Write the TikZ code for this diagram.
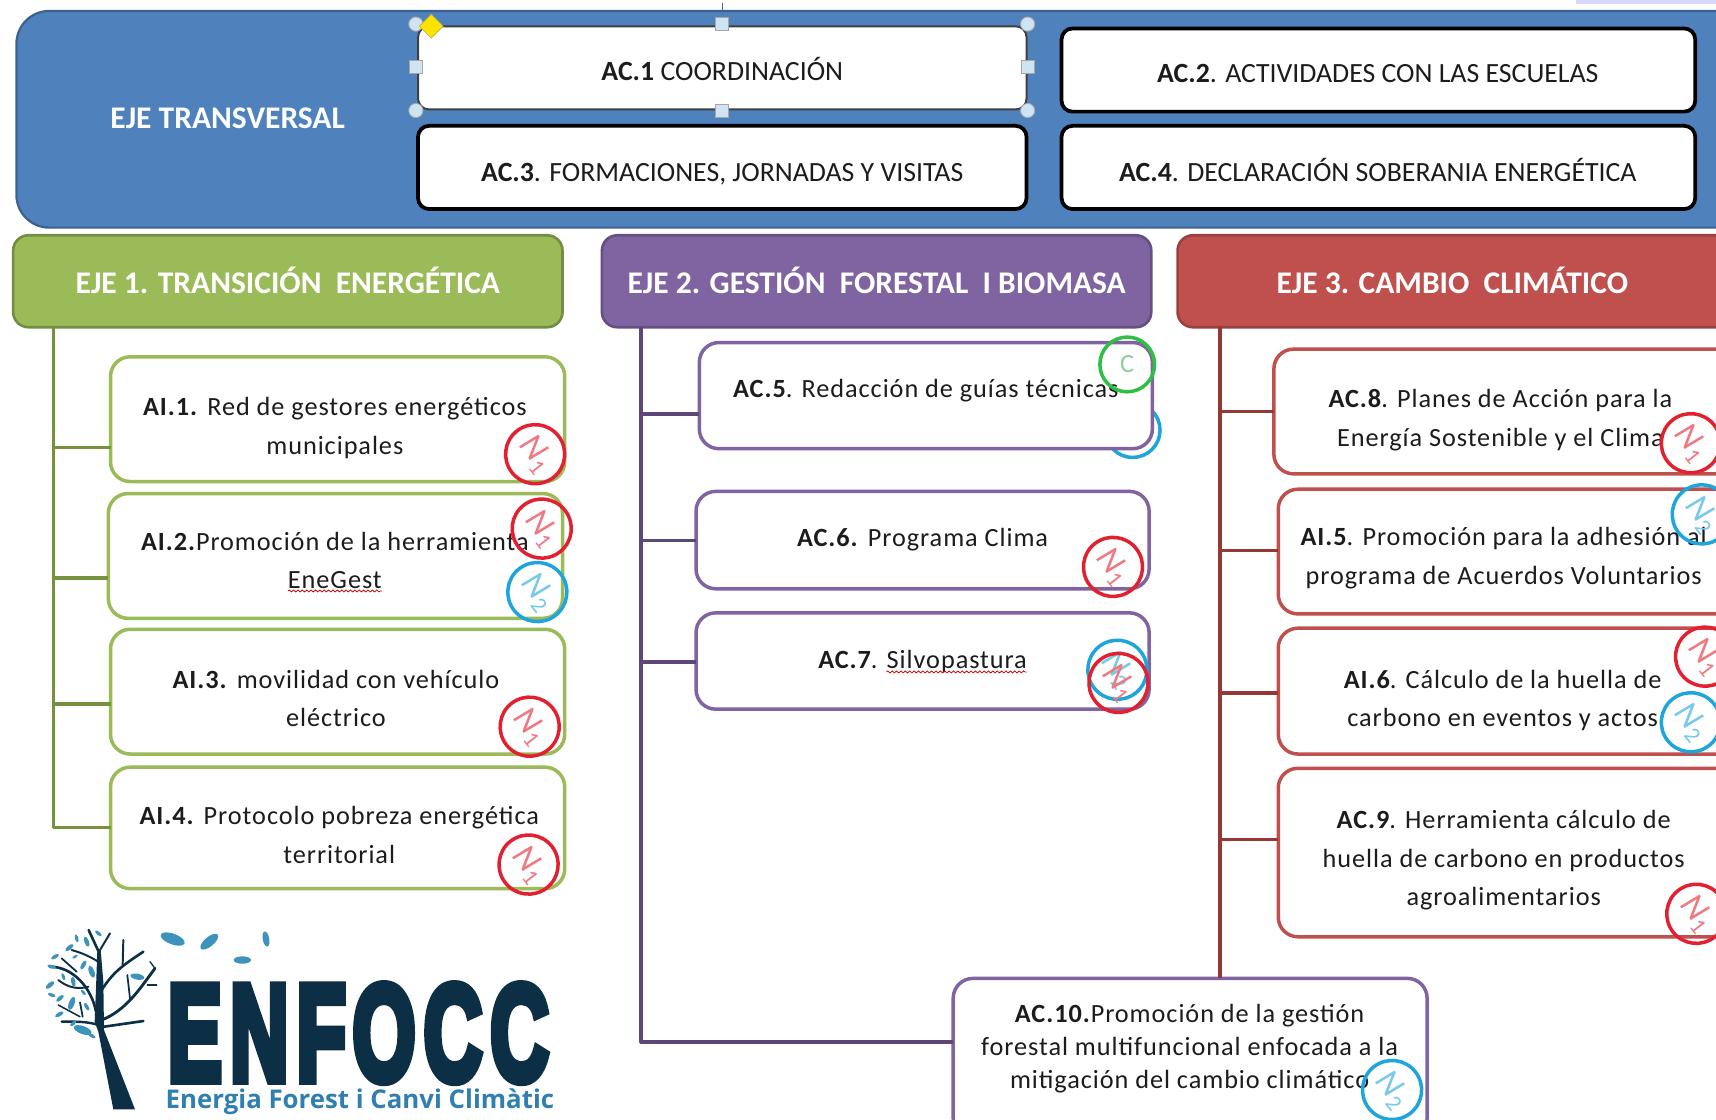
\documentclass[tikz,border=0pt]{standalone}
\usepackage{fontspec}
\usepackage{graphicx}
\setmainfont{Carlito}
\newfontfamily\bodyf[LetterSpace=3.6]{Carlito}
\newfontfamily\logof[BoldFeatures={FakeBold=7}]{Liberation Sans}
\newfontfamily\subf{Open Sans}
\usetikzlibrary{shapes.geometric,decorations.pathmorphing}
\definecolor{cblue}{HTML}{4F81BD}
\definecolor{cgreen}{HTML}{9BBB59}
\definecolor{cpurple}{HTML}{8064A2}
\definecolor{cred}{HTML}{C0504D}
\definecolor{lgreen}{HTML}{76923C}
\definecolor{lpurple}{HTML}{5C4776}
\definecolor{lred}{HTML}{953735}
\definecolor{bred}{HTML}{E3202F}
\definecolor{bblue}{HTML}{1EA5DC}
\definecolor{bgreen}{HTML}{2FBF45}
\definecolor{logod}{HTML}{0D2F45}
\definecolor{logob}{HTML}{2F7FB0}
\definecolor{leafc}{HTML}{3E93BC}
\definecolor{ink}{HTML}{1C1C1C}
\definecolor{handle}{HTML}{CFE4F3}
\tikzset{
  base/.style={rectangle,inner sep=0pt,outer sep=0pt},
  transv/.style={base,draw=cblue!75!black,fill=cblue,line width=1pt,rounded corners=15pt},
  topbox/.style={base,draw=black,fill=white,line width=1.7pt,rounded corners=5pt},
  selbox/.style={base,draw=black!75,fill=white,line width=.9pt,rounded corners=5pt},
  head1/.style={base,draw=cgreen!75!black,fill=cgreen,line width=1.2pt,rounded corners=7pt},
  head2/.style={base,draw=cpurple!80!black,fill=cpurple,line width=1.2pt,rounded corners=7pt},
  head3/.style={base,draw=cred!80!black,fill=cred,line width=1.2pt,rounded corners=7pt},
  gbox/.style={base,draw=cgreen,fill=white,line width=1.6pt,rounded corners=9pt},
  pbox/.style={base,draw=cpurple,fill=white,line width=1.6pt,rounded corners=9pt},
  rbox/.style={base,draw=cred,fill=white,line width=1.6pt,rounded corners=9pt},
  gline/.style={draw=lgreen,line width=1.7pt},
  pline/.style={draw=lpurple,line width=1.7pt},
  rline/.style={draw=lred,line width=1.7pt},
  bodytxt/.style={align=center,inner sep=0pt,text=ink,font=\bodyf\fontsize{12}{17.5}\selectfont},
  tighttxt/.style={bodytxt,font=\bodyf\fontsize{12}{15}\selectfont},
  toptxt/.style={align=center,inner sep=0pt,text=ink,text height=8pt,text depth=2.4pt,yshift=-1.5pt,font=\fontsize{12.7}{14}\selectfont},
  headtxt/.style={align=center,inner sep=0pt,text=white,text height=9pt,text depth=2pt,yshift=-1.5pt,font=\bfseries\fontsize{14.4}{16}\selectfont},
  badgec/.style={circle,draw=#1,line width=1.6pt,minimum size=27pt,inner sep=0pt,
     text=#1!60!white,font=\fontsize{16}{16}\selectfont},
  handc/.style={circle,draw=black!35,fill=handle,line width=.4pt,minimum size=6.5pt,inner sep=0pt},
  hands/.style={rectangle,draw=black!35,fill=handle,line width=.4pt,minimum size=6pt,inner sep=0pt},
  squig/.style={draw=red!80!black,line width=.35pt,decorate,decoration={snake,amplitude=.45pt,segment length=2pt}},
  leaf/.style={ellipse,fill=leafc,inner sep=0pt,minimum width=#1*.1523pt,minimum height=#1*.065pt},
  limb/.style={draw=logod,line cap=round,line join=round}
}
\newcommand{\mybox}[6]{%
  \pgfmathsetmacro\cxx{(#3+#5)/2}\pgfmathsetmacro\cyy{(#4+#6)/2}%
  \pgfmathsetmacro\wdd{(#5-#3)*0.5}\pgfmathsetmacro\htt{(#6-#4)*0.5}%
  \node[#1,minimum width=\wdd pt,minimum height=\htt pt] (#2) at (\cxx,\cyy) {};}
\newcommand{\Nn}[1]{\textit{N}\raisebox{-.35ex}{\fontsize{10.5}{10.5}\selectfont #1}}
\newcommand{\badge}[5]{\node[badgec=#1,rotate=-52] (#2) at (#3,#4) {#5};}
\newcommand{\lf}[4]{\node[leaf=#4,rotate=#3] at (#1,#2) {};}
\begin{document}
\begin{tikzpicture}[x=0.5pt,y=-0.5pt]
\path[use as bounding box,fill=white] (0,0) rectangle (1568,1022.5);
\clip (0,0) rectangle (1568,1022.5);
% window artefacts at the top
\fill[blue!15!white] (1440,0) rectangle (1568,3.5);
\draw[black!60,line width=.4pt] (660,3) -- (660,12);
% transversal axis
\mybox{transv}{et}{15}{10}{1600}{208}
\node[headtxt] (ettxt) at (208,107) {EJE TRANSVERSAL};
\mybox{selbox}{ac1}{382}{24}{938}{100}
\mybox{topbox}{ac2}{970}{26}{1549}{102}
\mybox{topbox}{ac3}{382}{115}{938}{191}
\mybox{topbox}{ac4}{970}{115}{1549}{191}
\node[toptxt] (ac1t) at (660,65) {\textbf{AC.1} COORDINACIÓN};
\node[toptxt] (ac2t) at (1259,67) {\textbf{AC.2}. ACTIVIDADES CON LAS ESCUELAS};
\node[toptxt] (ac3t) at (660,157) {\textbf{AC.3}. FORMACIONES, JORNADAS Y VISITAS};
\node[toptxt] (ac4t) at (1259,157) {\textbf{AC.4}. DECLARACIÓN SOBERANIA ENERGÉTICA};
\node[handc] (h1) at (380,22) {};
\node[handc] (h2) at (939,22) {};
\node[handc] (h3) at (380,101) {};
\node[handc] (h4) at (939,101) {};
\node[hands] (h5) at (660,22) {};
\node[hands] (h6) at (380,61) {};
\node[hands] (h7) at (939,61) {};
\node[hands] (h8) at (660,101) {};
\node[diamond,draw=yellow!70!black,fill=yellow!85!orange,line width=.3pt,inner sep=0pt,minimum size=11pt] (h9) at (394,24) {};
% axis heads
\mybox{head1}{e1}{12}{215}{514}{299}
\mybox{head2}{e2}{550}{215}{1052}{299}
\mybox{head3}{e3}{1076}{215}{1600}{299}
\node[headtxt] (e1t) at (263,258) {EJE 1. TRANSICIÓN\ \ ENERGÉTICA};
\node[headtxt] (e2t) at (801,258) {EJE 2. GESTIÓN\ \ FORESTAL\ \ I BIOMASA};
\node[headtxt] (e3t) at (1327,258) {EJE 3. CAMBIO\ \ CLIMÁTICO};
% boxes: axis 1
\mybox{gbox}{ai1}{101}{326}{516}{440}
\mybox{gbox}{ai2}{99}{451}{514}{565}
\mybox{gbox}{ai3}{101}{575}{516}{689}
\mybox{gbox}{ai4}{101}{701}{516}{812}
% axis 2
\node[circle,draw=bblue,line width=1.6pt,minimum size=25pt,inner sep=0pt] (b5b) at (1035,393) {};
\mybox{pbox}{ac5}{639}{313}{1053}{410}
\mybox{pbox}{ac6}{636}{449}{1050}{538}
\mybox{pbox}{ac7}{636}{560}{1050}{648}
% axis 3
\mybox{rbox}{ac8}{1164}{319}{1600}{433}
\mybox{rbox}{ai5}{1168}{447}{1600}{561}
\mybox{rbox}{ai6}{1168}{574}{1600}{689}
\mybox{rbox}{ac9}{1168}{702}{1600}{856}
\mybox{pbox}{ac10}{871}{894}{1304}{1040}
% connectors
\coordinate (gt) at (49,299);  \coordinate (ge) at (49,756);
\coordinate (g1) at (49,409);  \coordinate (g2) at (49,528);
\coordinate (g3) at (49,643);
\draw[gline,line join=round] (gt) -- (ge) -- (ge -| ai4.west);
\draw[gline] (g1) -- (g1 -| ai1.west);
\draw[gline] (g2) -- (g2 -| ai2.west);
\draw[gline] (g3) -- (g3 -| ai3.west);
\coordinate (pt) at (586,299); \coordinate (pe) at (586,952);
\coordinate (p5) at (586,378); \coordinate (p6) at (586,494); \coordinate (p7) at (586,605);
\draw[pline,line join=round] (pt) -- (pe) -- (pe -| ac10.west);
\draw[pline] (p5) -- (p5 -| ac5.west);
\draw[pline] (p6) -- (p6 -| ac6.west);
\draw[pline] (p7) -- (p7 -| ac7.west);
\coordinate (rt) at (1115,299);
\coordinate (r8) at (1115,376); \coordinate (r5) at (1115,503);
\coordinate (r6) at (1115,633); \coordinate (r9) at (1115,767);
\draw[rline] (rt) -- (rt |- ac10.north);
\draw[rline] (r8) -- (r8 -| ac8.west);
\draw[rline] (r5) -- (r5 -| ai5.west);
\draw[rline] (r6) -- (r6 -| ai6.west);
\draw[rline] (r9) -- (r9 -| ac9.west);
% labels
\node[bodytxt] (ai1t) at (306,391) {\textbf{AI.1.} Red de gestores energéticos\\municipales};
\node[bodytxt] (ai2t) at (306,512) {\textbf{AI.2.}Promoción de la herramienta\\EneGest};
\node[bodytxt] (ai3t) at (307,638) {\textbf{AI.3.} movilidad con vehículo\\eléctrico};
\node[bodytxt] (ai4t) at (310,763) {\textbf{AI.4.} Protocolo pobreza energética\\territorial};
\node[bodytxt] (ac5t) at (846,357) {\textbf{AC.5}. Redacción de guías técnicas};
\node[bodytxt] (ac6t) at (843,493) {\textbf{AC.6.} Programa Clima};
\node[bodytxt] (ac7t) at (843,604) {\textbf{AC.7}. Silvopastura};
\node[bodytxt] (ac8t) at (1371,384) {\textbf{AC.8}. Planes de Acción para la\\Energía Sostenible y el Clima};
\node[bodytxt] (ai5t) at (1374,510) {\textbf{AI.5}. Promoción para la adhesión al\\programa de Acuerdos Voluntarios};
\node[bodytxt] (ai6t) at (1373,640) {\textbf{AI.6}. Cálculo de la huella de\\carbono en eventos y actos};
\node[bodytxt] (ac9t) at (1374,786) {\textbf{AC.9}. Herramienta cálculo de\\huella de carbono en productos\\agroalimentarios};
\node[tighttxt] (ac10t) at (1087,958) {\textbf{AC.10.}Promoción de la gestión\\forestal multifuncional enfocada a la\\mitigación del cambio climático};
\coordinate (s1a) at (263,540); \coordinate (s1b) at (349,540);
\coordinate (s2a) at (810,614); \coordinate (s2b) at (938,614);
\draw[squig] (s1a) -- (s1b);
\draw[squig] (s2a) -- (s2b);
% badges
\badge{bred}{b1}{489}{415}{\Nn{1}}
\badge{bred}{b2a}{495}{483}{\Nn{1}}
\badge{bblue}{b2b}{491}{541}{\Nn{2}}
\badge{bred}{b3}{484}{664}{\Nn{1}}
\badge{bred}{b4}{483}{790}{\Nn{1}}
\node[circle,draw=bgreen,line width=1.6pt,minimum size=25pt,inner sep=0pt,text=bgreen!50!white!80!gray,font=\fontsize{12}{12}\selectfont] (b5a) at (1030,333) {C};
\badge{bred}{b6}{1017}{518}{\Nn{1}}
\badge{bblue}{b7b}{1021}{612}{\Nn{2}}
\badge{bred}{b7a}{1022}{624}{\Nn{1}}
\badge{bred}{b8}{1545}{405}{\Nn{1}}
\badge{bblue}{b9}{1555}{470}{\Nn{2}}
\badge{bred}{b10a}{1558}{600}{\Nn{1}}
\badge{bblue}{b10b}{1545}{660}{\Nn{2}}
\badge{bred}{b11}{1550}{835}{\Nn{1}}
\badge{bblue}{b12}{1272}{996}{\Nn{2}}
% logo wordmark
\node[anchor=north west,inner sep=0pt,text=logod] (logo) at (153,899.5)
  {\resizebox{174pt}{43.5pt}{\logof\bfseries E\kern.1em N\kern.1em F\kern.08em O\kern.1em C\kern.1em C}};
\node[anchor=north west,inner sep=0pt,text=logob] (logosub) at (151,994)
  {\resizebox{177.5pt}{!}{\subf\bfseries Energia Forest i Canvi Climàtic}};
% logo tree (coordinates of a 3x enlargement of the logo)
\begin{scope}[shift={(27.41,836.1)},x=0.1523pt,y=-0.1523pt]
\fill[logod] (250,583) -- (315,583) -- (222,345) -- (220,200) -- (212,105) -- (202,105) -- (198,220) -- (194,320) -- (205,350) -- cycle;
\draw[limb,line width=1.2pt] (205,108) -- (176,45);
\draw[limb,line width=1.3pt] (215,315) .. controls (290,285) and (330,220) .. (375,160);
\draw[limb,line width=.8pt] (300,250) -- (292,180);
\draw[limb,line width=1.2pt] (215,225) .. controls (250,170) and (280,150) .. (340,110);
\draw[limb,line width=.9pt] (278,150) -- (280,75);
\draw[limb,line width=.9pt] (207,110) -- (240,55);
\draw[limb,line width=1.2pt] (222,335) -- (340,318);
\draw[limb,line width=.6pt] (375,160) -- (360,140);
\draw[limb,line width=.6pt] (352,210) -- (380,210);
\draw[limb,line width=1.1pt] (205,330) .. controls (170,318) and (130,320) .. (95,320);
\draw[limb,line width=1.2pt] (198,290) .. controls (185,220) and (130,155) .. (60,155);
\draw[limb,line width=.9pt] (175,215) .. controls (140,225) and (110,215) .. (85,195);
\draw[limb,line width=.8pt] (140,170) -- (95,130);
\draw[limb,line width=.9pt] (205,140) .. controls (180,125) and (160,115) .. (125,105);
\draw[limb,line width=.8pt] (158,305) -- (150,262);
\draw[limb,line width=.7pt] (150,305) -- (85,270);
\lf{205}{55}{-40}{24}\lf{170}{80}{-70}{32}\lf{140}{70}{-75}{24}\lf{118}{98}{40}{30}
\lf{135}{125}{30}{18}\lf{160}{150}{60}{30}\lf{185}{170}{-70}{38}\lf{75}{125}{30}{26}
\lf{65}{155}{-15}{26}\lf{100}{185}{-70}{22}\lf{130}{200}{-80}{30}\lf{60}{210}{40}{32}
\lf{65}{240}{-20}{24}\lf{90}{250}{40}{28}\lf{125}{265}{70}{40}\lf{160}{232}{-50}{20}
\lf{170}{275}{-60}{26}\lf{88}{298}{30}{28}\lf{130}{325}{45}{24}\lf{158}{345}{-20}{56}
\lf{185}{362}{-30}{24}\lf{322}{185}{-10}{42}
\lf{428}{72}{-20}{76}\lf{538}{80}{40}{66}\lf{708}{72}{-80}{46}\lf{637}{135}{0}{52}
\end{scope}
\end{tikzpicture}
\end{document}
